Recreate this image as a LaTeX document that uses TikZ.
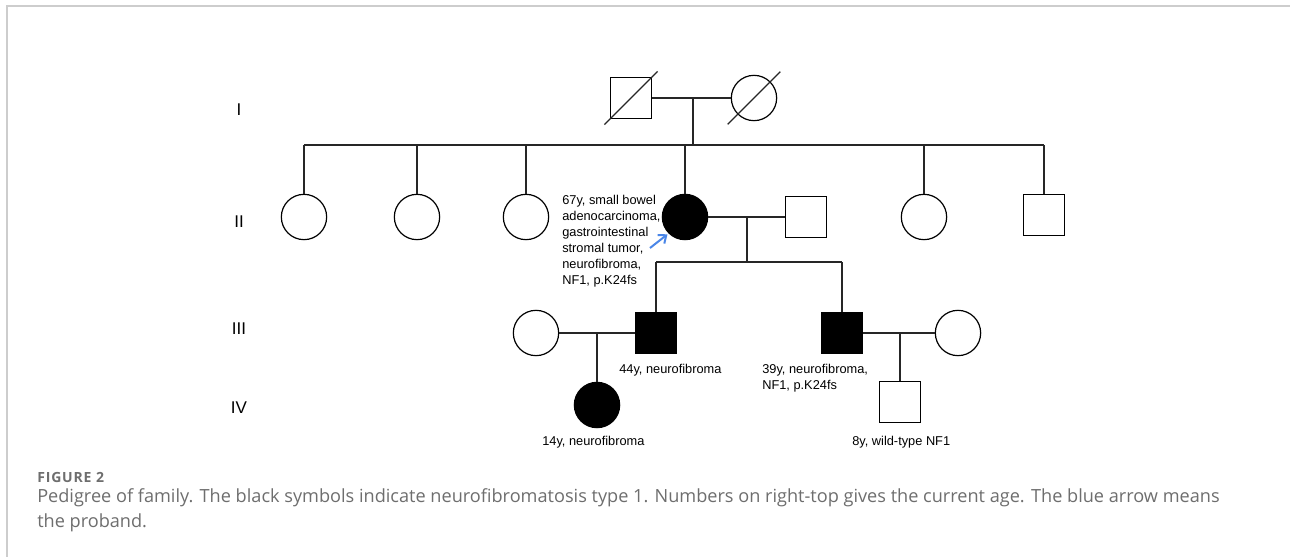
\documentclass[tikz,border=0pt]{standalone}
\usepackage{fontspec}
\setmainfont{Liberation Sans}
\newfontfamily\capfont{Open Sans}
\newfontfamily\figfont[LetterSpace=6]{Open Sans}
\usetikzlibrary{arrows.meta,calc}

\definecolor{probandblue}{RGB}{74,134,232}
\definecolor{captiongray}{RGB}{110,110,110}
\definecolor{framegray}{RGB}{205,205,205}

\tikzset{
  male/.style={draw, rectangle, minimum size=31pt, inner sep=0pt, line width=0.9pt},
  female/.style={draw, circle, minimum size=34pt, inner sep=0pt, line width=0.9pt},
  affected/.style={fill=black},
  kin/.style={line width=1pt, draw=black!85},
  genlabel/.style={inner sep=0pt, font=\fontsize{12.75}{15}\selectfont},
  note/.style={anchor=north west, inner sep=0pt, align=left, font=\fontsize{9.6}{12}\selectfont},
}

\begin{document}
\begin{tikzpicture}[x=0.75pt,y=0.75pt,yscale=-1,xscale=1]
    \fill[white] (0,0) rectangle (1290,557);
    \path[use as bounding box] (0,0) rectangle (1290,557);
    %frame of the figure card
    \draw[framegray, line width=1.2pt] (7,557) -- (7,6) -- (1290,6);

    % Text Node
    \node[genlabel] (genI) at (239,110) {I};
    % Text Node
    \node[genlabel] (genII) at (239,222) {II};
    % Text Node
    \node[genlabel] (genIII) at (239,329) {III};
    % Text Node
    \node[genlabel] (genIV) at (239,408) {IV};

    %generation I
    \node[male] (gp) at (631,98) {};
    \node[female] (gm) at (754,98) {};
    \draw[kin] ($(gp.center)!1.25!(gp.south west)$) -- ($(gp.center)!1.25!(gp.north east)$);
    \draw[kin] ($(gm.center)!1.6!(gm.225)$) -- ($(gm.center)!1.6!(gm.45)$);
    \coordinate (gc) at (693,98);
    \coordinate (gs) at (693,145);
    \draw[kin] (gp) -- (gm);
    \draw[kin] (gc) -- (gs);

    %generation II
    \node[female] (c1) at (304,217) {};
    \node[female] (c2) at (417,217) {};
    \node[female] (c3) at (526,217) {};
    \node[female, affected] (pb) at (685,217) {};
    \node[male] (sp) at (806,217) {};
    \node[female] (c6) at (924,217) {};
    \node[male] (c7) at (1044,215) {};
    \draw[kin] (c1.north |- gs) -- (c7.north |- gs);
    \foreach \n in {c1,c2,c3,pb,c6,c7}
      \draw[kin] (\n.north) -- (\n.north |- gs);
    \coordinate (pc) at (747,217);
    \coordinate (ps) at (747,262);
    \draw[kin] (pb) -- (sp);
    \draw[kin] (pc) -- (ps);

    %proband arrow
    \coordinate (arrowtail) at (650,248);
    \draw[probandblue, line width=1.5pt, -{Straight Barb[length=5pt,width=8pt]}, shorten >=1pt] (arrowtail) -- (pb.225);

    %generation III
    \node[female] (w1) at (536,333) {};
    \node[male, affected] (s1) at (656,333) {};
    \node[male, affected] (s2) at (842,333) {};
    \node[female] (w2) at (958,333) {};
    \draw[kin] (s1.north |- ps) -- (s2.north |- ps);
    \draw[kin] (s1.north) -- (s1.north |- ps);
    \draw[kin] (s2.north) -- (s2.north |- ps);
    \draw[kin] (w1) -- (s1);
    \draw[kin] (s2) -- (w2);
    \coordinate (m1) at (597,333);
    \coordinate (m2) at (900,333);

    %generation IV
    \node[female, affected] (g1) at (597,405) {};
    \node[male] (g2) at (900,402) {};
    \draw[kin] (m1) -- (g1);
    \draw[kin] (m2) -- (g2);

    % Text Node
    \node[note] (pbnote) at (562,195) {67y, small bowel\\adenocarcinoma,\\gastrointestinal\\stromal tumor,\\neurofibroma,\\NF1, p.K24fs};
    % Text Node
    \node[note] (s1note) at (619,364) {44y, neurofibroma};
    % Text Node
    \node[note] (s2note) at (762,364) {39y, neurofibroma,\\NF1, p.K24fs};
    % Text Node
    \node[note] (g1note) at (542,436) {14y, neurofibroma};
    % Text Node
    \node[note] (g2note) at (852,436) {8y, wild-type NF1};

    % Text Node
    \node[anchor=north west, inner sep=0pt, text=captiongray, font=\figfont\bfseries\fontsize{10.5}{12}\selectfont] (figlabel) at (37,472) {FIGURE 2};
    % Text Node
    \node[anchor=north west, inner sep=0pt, align=left, text=captiongray, font=\capfont\fontsize{13.6}{18.75}\selectfont] (caption) at (37,488) {Pedigree of family. The black symbols indicate neurofibromatosis type 1. Numbers on right-top gives the current age. The blue arrow means\\the proband.};
\end{tikzpicture}
\end{document}
